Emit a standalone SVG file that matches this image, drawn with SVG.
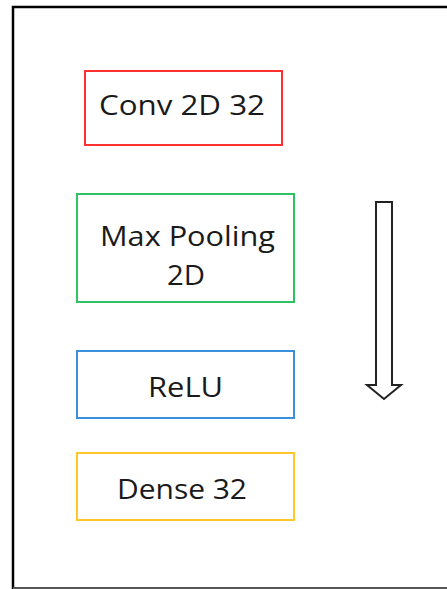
<svg xmlns="http://www.w3.org/2000/svg" width="447" height="589" viewBox="0 0 447 589">
  <style>
    .box { fill: #ffffff; stroke-width: 2; }
    .lbl { font-family: "Open Sans", "Noto Sans", sans-serif; font-size: 27px; fill: #1a1a1a; text-anchor: middle; }
  </style>
  <rect x="0" y="0" width="447" height="589" fill="#ffffff"/>
  <!-- outer frame -->
  <path d="M13 589 V7 H447" fill="none" stroke="#000000" stroke-width="2.5"/>
  <line x1="13" y1="588" x2="447" y2="588" stroke="#555555" stroke-width="2"/>

  <g id="conv2d">
    <rect class="box" x="85" y="71" width="197" height="74" stroke="#ff3030"/>
    <text class="lbl" x="182" y="115" textLength="166" lengthAdjust="spacingAndGlyphs">Conv 2D 32</text>
  </g>
  <g id="maxpool">
    <rect class="box" x="77" y="194" width="217" height="108" stroke="#2ec263"/>
    <text class="lbl" x="187.5" y="246" textLength="175" lengthAdjust="spacingAndGlyphs">Max Pooling</text>
    <text class="lbl" x="186" y="285" textLength="38" lengthAdjust="spacingAndGlyphs">2D</text>
  </g>
  <g id="relu">
    <rect class="box" x="77" y="351" width="217" height="67" stroke="#3a8fdc"/>
    <text class="lbl" x="185.5" y="397" textLength="75" lengthAdjust="spacingAndGlyphs">ReLU</text>
  </g>
  <g id="dense">
    <rect class="box" x="77" y="453" width="217" height="67" stroke="#ffc72a"/>
    <text class="lbl" x="182" y="499" textLength="130" lengthAdjust="spacingAndGlyphs">Dense 32</text>
  </g>

  <!-- hollow block arrow showing the flow direction -->
  <g id="connectors">
    <path d="M376 202 H392 V385 H401 L384 399 L367 385 H376 Z" fill="#ffffff" stroke="#222222" stroke-width="2" stroke-linejoin="miter"/>
  </g>
</svg>
